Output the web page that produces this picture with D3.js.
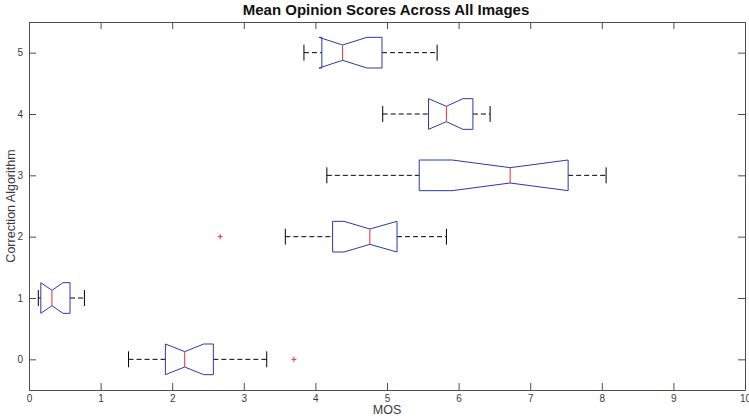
<!DOCTYPE html>
<html>
<head>
<meta charset="utf-8">
<script src="https://cdn.jsdelivr.net/npm/d3@7"></script>
<style>
  html, body { margin: 0; padding: 0; background: #fff; }
  svg { display: block; font-family: "Liberation Sans", Arial, Helvetica, sans-serif; }
</style>
</head>
<body>
<svg id="chart" width="749" height="418"></svg>
<script>
// Correction algorithms (one notched box per row)
const algorithms = [0, 1, 2, 3, 4, 5];
// Box statistics per algorithm (MOS)
const whiskerLow  = [1.39, 0.13, 3.58, 4.16, 4.94, 3.84];
const quartile1   = [1.905, 0.165, 4.24, 5.45, 5.58, 4.09];
const notchLow    = [1.905, 0.165, 4.40, 5.91, 5.58, 4.05];
const medians     = [2.175, 0.32, 4.76, 6.72, 5.83, 4.38];
const notchHigh   = [2.44, 0.475, 5.14, 7.53, 6.06, 4.72];
const quartile3   = [2.575, 0.573, 5.14, 7.53, 6.20, 4.93];
const whiskerHigh = [3.32, 0.774, 5.83, 8.06, 6.44, 5.70];
// Outliers: [algorithm, MOS]
const outlierAlg  = [0, 2];
const outlierMOS  = [3.70, 2.67];
// Axis ticks
const xTicks = [0, 1, 2, 3, 4, 5, 6, 7, 8, 9, 10];
const yTicks = [0, 1, 2, 3, 4, 5];

const svg = d3.select("#chart");
const mLeft = 29, mRight = 745, mTop = 22, mBottom = 390;

const x = d3.scaleLinear().domain([0, 10]).range([mLeft, mRight]);
const y = d3.scaleLinear().domain([-0.5, 5.5]).range([mBottom, mTop]);

const axisColor = "#4d4d4d";
const tickLen = 7;
const boxHalf = 0.25, notchHalf = 0.125, capHalf = 0.13;
const fmt = d3.format("d");

// Axes (ticks pointing inward, mirrored on top and right)
const gx = svg.append("g").attr("transform", `translate(0,${mBottom})`)
  .call(d3.axisBottom(x).tickValues(xTicks).tickFormat(fmt).tickSizeInner(-tickLen).tickSizeOuter(0).tickPadding(5));
const gxTop = svg.append("g").attr("transform", `translate(0,${mTop})`)
  .call(d3.axisTop(x).tickValues(xTicks).tickSizeInner(-tickLen).tickSizeOuter(0).tickFormat(""));
const gy = svg.append("g").attr("transform", `translate(${mLeft},0)`)
  .call(d3.axisLeft(y).tickValues(yTicks).tickFormat(fmt).tickSizeInner(-tickLen).tickSizeOuter(0).tickPadding(6));
const gyRight = svg.append("g").attr("transform", `translate(${mRight},0)`)
  .call(d3.axisRight(y).tickValues(yTicks).tickSizeInner(-tickLen).tickSizeOuter(0).tickFormat(""));

[gx, gxTop, gy, gyRight].forEach(g => {
  g.select(".domain").attr("stroke", axisColor).attr("stroke-width", 1);
  g.selectAll(".tick line").attr("stroke", axisColor);
  g.selectAll(".tick text").attr("fill", "#3a3a3a").style("font-size", "10px");
});

const rows = algorithms.map((a, i) => ({
  a, wl: whiskerLow[i], q1: quartile1[i], nl: notchLow[i], med: medians[i],
  nu: notchHigh[i], q3: quartile3[i], wh: whiskerHigh[i]
}));

const plot = svg.append("g");

// Whiskers (dashed) and caps
rows.forEach(r => {
  const yc = y(r.a);
  plot.append("line").attr("x1", x(r.wl)).attr("x2", x(r.q1)).attr("y1", yc).attr("y2", yc)
    .attr("stroke", "#000").attr("stroke-dasharray", "5,3");
  plot.append("line").attr("x1", x(r.q3)).attr("x2", x(r.wh)).attr("y1", yc).attr("y2", yc)
    .attr("stroke", "#000").attr("stroke-dasharray", "5,3");
  [r.wl, r.wh].forEach(v => {
    plot.append("line").attr("x1", x(v)).attr("x2", x(v))
      .attr("y1", y(r.a + capHalf)).attr("y2", y(r.a - capHalf)).attr("stroke", "#000");
  });
});

// Notched boxes
rows.forEach(r => {
  const pts = [
    [r.q1, r.a + boxHalf], [r.nl, r.a + boxHalf], [r.med, r.a + notchHalf],
    [r.nu, r.a + boxHalf], [r.q3, r.a + boxHalf], [r.q3, r.a - boxHalf],
    [r.nu, r.a - boxHalf], [r.med, r.a - notchHalf], [r.nl, r.a - boxHalf],
    [r.q1, r.a - boxHalf]
  ];
  plot.append("path")
    .attr("d", d3.line().x(d => x(d[0])).y(d => y(d[1]))(pts) + "Z")
    .attr("fill", "none").attr("stroke", "#2b3aa8").attr("stroke-width", 1);
  plot.append("line").attr("x1", x(r.med)).attr("x2", x(r.med))
    .attr("y1", y(r.a + notchHalf)).attr("y2", y(r.a - notchHalf))
    .attr("stroke", "#e8302a").attr("stroke-width", 1);
});

// Outliers
outlierAlg.forEach((a, i) => {
  const cx = x(outlierMOS[i]), cy = y(a), s = 2.5;
  plot.append("path").attr("d", `M${cx - s},${cy}H${cx + s}M${cx},${cy - s}V${cy + s}`)
    .attr("stroke", "#e8302a").attr("stroke-width", 1);
});

// Titles
svg.append("text").attr("x", 386).attr("y", 15).attr("text-anchor", "middle")
  .style("font-size", "15px").style("font-weight", "bold").attr("fill", "#111")
  .text("Mean Opinion Scores Across All Images");
svg.append("text").attr("x", 387).attr("y", 414).attr("text-anchor", "middle")
  .style("font-size", "12.5px").attr("fill", "#3a3a3a").text("MOS");
svg.append("text").attr("transform", `translate(15,${(mTop + mBottom) / 2}) rotate(-90)`)
  .attr("text-anchor", "middle").style("font-size", "12.5px").attr("fill", "#3a3a3a")
  .text("Correction Algorithm");
</script>
</body>
</html>
